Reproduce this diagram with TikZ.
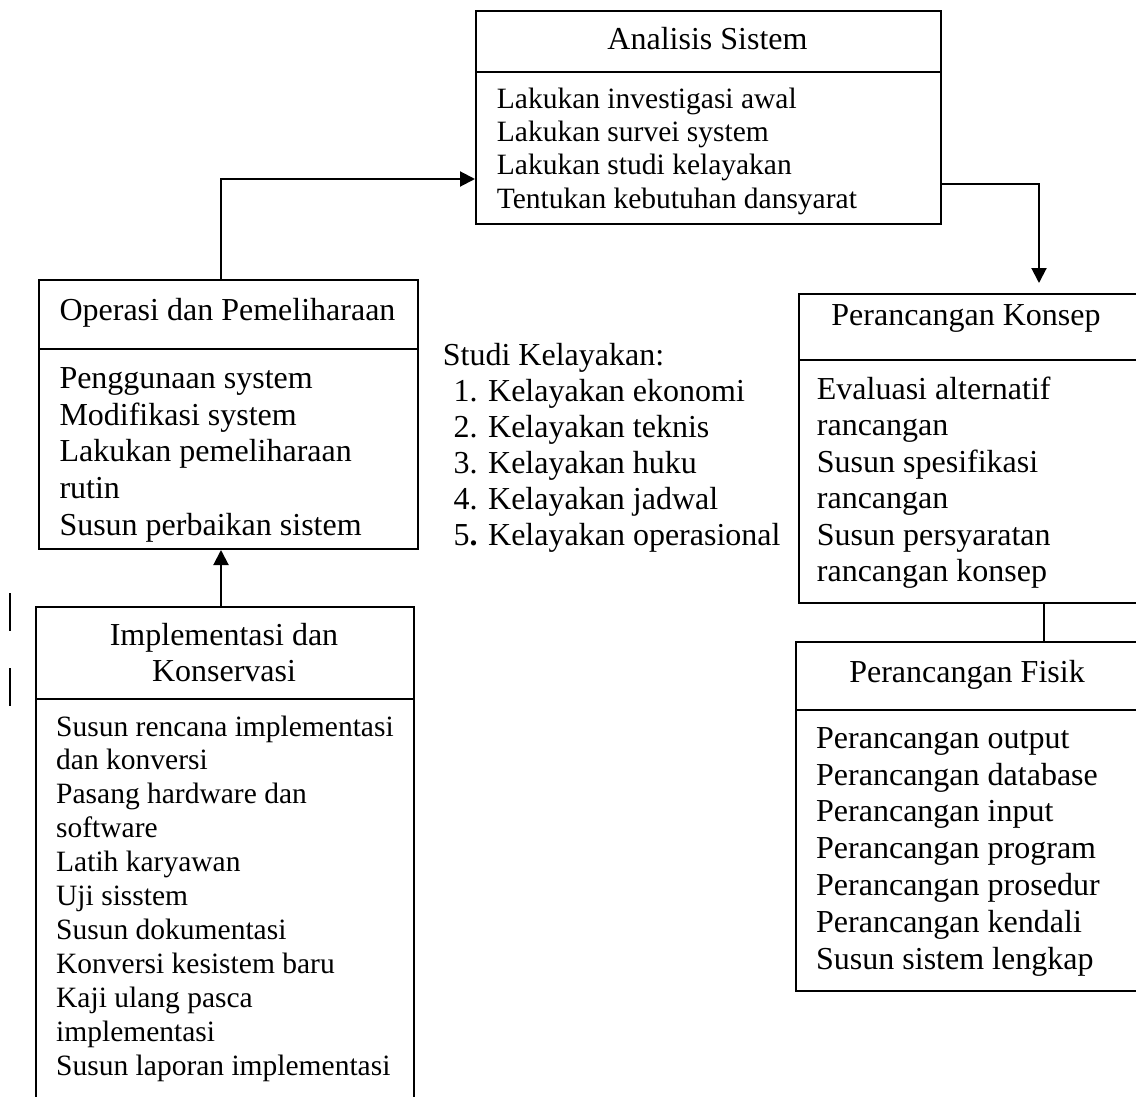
\documentclass[tikz,border=0pt]{standalone}
\usepackage{fontspec}
\setmainfont{Liberation Serif}
\usetikzlibrary{arrows.meta}
\newcommand\linesat[6]{%
  \foreach \txt [count=\k from 0] in {#6} {\node[#2] (#1\k) at ({#3},{#4+\k*#5}) {\txt};}}
\begin{document}
\begin{tikzpicture}[x=1pt,y=-1pt,
  box/.style={draw, line width=2pt, anchor=north west, inner sep=0pt},
  ttl/.style={font=\fontsize{32}{36.8}\selectfont, anchor=base, inner sep=0pt},
  bigtxt/.style={font=\fontsize{32}{36.8}\selectfont, anchor=base west, inner sep=0pt},
  smalltxt/.style={font=\fontsize{29.5}{33.9}\selectfont, anchor=base west, inner sep=0pt},
  conn/.style={line width=2pt},
  arr/.style={conn, -{Triangle[length=15pt,width=15pt]}}]
\useasboundingbox (0,0) rectangle (1136,1097);
\clip (0,0) rectangle (1136,1097);
% boxes
\node[box, minimum width=465pt, minimum height=61pt] (anah) at (475,10) {};
\node[box, minimum width=465pt, minimum height=152pt] (anab) at (475,71) {};
\node[box, minimum width=379pt, minimum height=69pt] (oph) at (38,279) {};
\node[box, minimum width=379pt, minimum height=200pt] (opb) at (38,348) {};
\node[box, minimum width=378pt, minimum height=92pt] (imh) at (35,606) {};
\node[box, minimum width=378pt, minimum height=422pt] (imb) at (35,698) {};
\node[box, minimum width=342pt, minimum height=66pt] (konh) at (798,293) {};
\node[box, minimum width=342pt, minimum height=243pt] (konb) at (798,359) {};
\node[box, minimum width=345pt, minimum height=68pt] (fish) at (795,641) {};
\node[box, minimum width=345pt, minimum height=281pt] (fisb) at (795,709) {};
% titles
\node[ttl] (anat) at (707.5,50) {Analisis Sistem};
\node[ttl] (opt) at (227.5,320) {Operasi dan Pemeliharaan};
\node[ttl] (imt1) at (224,645) {Implementasi dan};
\node[ttl] (imt2) at (224,681) {Konservasi};
\node[ttl] (kont) at (966,325) {Perancangan Konsep};
\node[ttl] (fist) at (967,682.7) {Perancangan Fisik};
% bodies
\linesat{ana}{smalltxt}{496.7}{108.3}{33.3}{Lakukan investigasi awal,Lakukan survei system,Lakukan studi kelayakan,Tentukan kebutuhan dansyarat}
\linesat{op}{bigtxt}{59.3}{388.3}{36.7}{Penggunaan system,Modifikasi system,Lakukan pemeliharaan,rutin,Susun perbaikan sistem}
\linesat{im}{smalltxt}{56}{736}{33.9}{Susun rencana implementasi,dan konversi,Pasang hardware dan,software,Latih karyawan,Uji sisstem,Susun dokumentasi,Konversi kesistem baru,Kaji ulang pasca,implementasi,Susun laporan implementasi}
\linesat{kon}{bigtxt}{816.7}{399.3}{36.5}{Evaluasi alternatif,rancangan,Susun spesifikasi,rancangan,Susun persyaratan,rancangan konsep}
\linesat{fis}{bigtxt}{816}{748.3}{36.8}{Perancangan output,Perancangan database,Perancangan input,Perancangan program,Perancangan prosedur,Perancangan kendali,Susun sistem lengkap}
\node[bigtxt] (studi) at (442.7,365) {Studi Kelayakan:};
\linesat{sk}{bigtxt}{453.3}{401.7}{36}{1. Kelayakan ekonomi,2. Kelayakan teknis,3. Kelayakan huku,4. Kelayakan jadwal,5\textbf{.} Kelayakan operasional}
% connectors
\draw[arr] ([xshift=-7.5pt]oph.north) |- ([yshift=-31pt]anab.west);
\draw[arr, shorten >=10pt] ([yshift=-36pt]anab.east) -| ([xshift=69pt]konh.north);
\draw[arr] ([xshift=-4pt]imh.north) -- ([xshift=-7.5pt]opb.south);
\draw[conn] ([xshift=74pt]konb.south) -- ([xshift=75.5pt]fish.north);
% side marks
\draw[conn] (10,593) -- (10,631);
\draw[conn] (10,668) -- (10,706);
\end{tikzpicture}
\end{document}
